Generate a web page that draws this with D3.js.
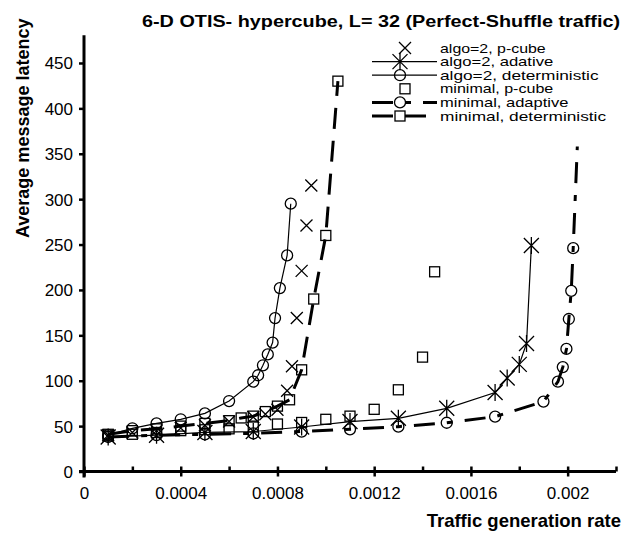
<!DOCTYPE html>
<html>
<head>
<meta charset="utf-8">
<script src="https://d3js.org/d3.v7.min.js"></script>
<style>
  body { margin: 0; background: #fff; }
  text { font-family: "Liberation Sans", Arial, sans-serif; fill: #000; }
</style>
</head>
<body>
<svg id="chart"></svg>
<script>
// ---- data ----
var pcubeAlgoX = [0.0001, 0.0002, 0.0003, 0.0004, 0.0005, 0.0006, 0.0007, 0.00075, 0.0008, 0.00084, 0.00086, 0.00088, 0.0009, 0.00092, 0.00094];
var pcubeAlgoY = [40, 43, 45, 48, 51, 55, 60, 63, 68, 89, 116, 169, 221, 271, 315];

var adaptAlgoX = [0.0001, 0.0003, 0.0005, 0.0007, 0.0009, 0.0011, 0.0013, 0.0015, 0.0017, 0.00175, 0.0018, 0.00183, 0.00185];
var adaptAlgoY = [38, 40, 43, 44, 49, 55, 58.6, 69.6, 87, 103, 118, 141, 249];

var detAlgoX = [0.0001, 0.0002, 0.0003, 0.0004, 0.0005, 0.0006, 0.0007, 0.00072, 0.00074, 0.00076, 0.00078, 0.00079, 0.00081, 0.00084, 0.000855];
var detAlgoY = [40, 47.6, 53, 57.5, 64, 77.6, 99, 106, 117, 129, 142, 169, 202, 238, 295];

var pcubeMinX = [0.0001, 0.0002, 0.0003, 0.0004, 0.0005, 0.0006, 0.0007, 0.0008, 0.0009, 0.001, 0.0011, 0.0012, 0.0013, 0.0014, 0.00145];
var pcubeMinY = [39, 41, 43, 45, 46, 47, 49, 52.3, 54, 57.5, 61, 68.5, 90, 126, 220];

var adaptMinX = [0.0001, 0.0003, 0.0005, 0.0007, 0.0009, 0.0011, 0.0013, 0.0015, 0.0017, 0.0019, 0.00196, 0.00198, 0.001995, 0.002005, 0.002015, 0.002023, 0.00204];
var adaptMinY = [38, 40, 41, 42, 44, 46.5, 49.4, 53.7, 60.4, 77, 99, 115, 135, 168, 199, 246, 358];

var detMinX = [0.0001, 0.0002, 0.0003, 0.0004, 0.0005, 0.0006, 0.00065, 0.0007, 0.00075, 0.0008, 0.00085, 0.0009, 0.00095, 0.001, 0.00105];
var detMinY = [41, 45, 47, 50, 53, 56, 59, 61, 66, 72, 79, 112, 190, 260, 430];

var seriesNames = ["algo=2, p-cube", "algo=2, adative", "algo=2, deterministic",
                   "minimal, p-cube", "minimal, adaptive", "minimal, deterministic"];

var yTicks = [0, 50, 100, 150, 200, 250, 300, 350, 400, 450];
var xTicks = [0, 0.0002, 0.0004, 0.0006, 0.0008, 0.001, 0.0012, 0.0014, 0.0016, 0.0018, 0.002, 0.0022];
var xLabels = ["0", "", "0.0004", "", "0.0008", "", "0.0012", "", "0.0016", "", "0.002", ""];

var titleText = "6-D OTIS- hypercube, L= 32 (Perfect-Shuffle traffic)";
var xTitle = "Traffic generation rate";
var yTitle = "Average message latency";

// ---- canvas ----
var W = 624, H = 536;
var plot = { left: 84, right: 616, top: 35.75, bottom: 471.5 };

var svg = d3.select("#chart")
    .attr("width", W)
    .attr("height", H);

var x = d3.scaleLinear().domain([0, 0.0022]).range([plot.left, plot.right]);
var y = d3.scaleLinear().domain([0, 480]).range([plot.bottom, plot.top]);

function zip(xs, ys) {
  return xs.map(function(v, i) { return { x: v, y: ys[i] }; });
}

var series = [
  { name: seriesNames[0], data: zip(pcubeAlgoX, pcubeAlgoY), marker: "x", line: null },
  { name: seriesNames[1], data: zip(adaptAlgoX, adaptAlgoY), marker: "star", line: { w: 1.2, dash: null } },
  { name: seriesNames[2], data: zip(detAlgoX, detAlgoY), marker: "circle", line: { w: 1.2, dash: null } },
  { name: seriesNames[3], data: zip(pcubeMinX, pcubeMinY), marker: "square", line: null },
  { name: seriesNames[4], data: zip(adaptMinX, adaptMinY), marker: "circle", line: { w: 3, dash: "21,12,6,12" }, noMarkerLast: true },
  { name: seriesNames[5], data: zip(detMinX, detMinY), marker: "square", line: { w: 3, dash: "21,12" } }
];

// marker drawing
function drawMarker(g, type, cx, cy) {
  var s = g.append("g").attr("transform", "translate(" + cx + "," + cy + ")")
      .attr("fill", "none").attr("stroke", "#000").attr("stroke-width", 1.3);
  if (type === "x") {
    s.append("path").attr("d", "M-6,-6L6,6M-6,6L6,-6");
  } else if (type === "star") {
    s.append("path").attr("d", "M-7.5,-7.5L7.5,7.5M-7.5,7.5L7.5,-7.5M0,-8.5L0,8.5");
  } else if (type === "circle") {
    s.append("circle").attr("r", 5.5);
  } else if (type === "square") {
    s.append("rect").attr("x", -5).attr("y", -5).attr("width", 10).attr("height", 10);
  }
}

// clip to plot area
svg.append("clipPath").attr("id", "plotclip")
  .append("rect")
    .attr("x", plot.left).attr("y", plot.top)
    .attr("width", plot.right - plot.left).attr("height", plot.bottom - plot.top);

var gData = svg.append("g").attr("clip-path", "url(#plotclip)");

var line = d3.line()
    .x(function(d) { return x(d.x); })
    .y(function(d) { return y(d.y); });

series.forEach(function(s) {
  if (s.line) {
    gData.append("path")
      .attr("d", line(s.data))
      .attr("fill", "none")
      .attr("stroke", "#000")
      .attr("stroke-width", s.line.w)
      .attr("stroke-dasharray", s.line.dash);
  }
});
series.forEach(function(s) {
  s.data.forEach(function(d, i) {
    if (s.noMarkerLast && i === s.data.length - 1) return;
    drawMarker(gData, s.marker, x(d.x), y(d.y));
  });
});

// ---- axes ----
var yAxis = svg.append("g")
    .attr("transform", "translate(" + plot.left + ",0)")
    .call(d3.axisLeft(y).tickValues(yTicks).tickSize(5).tickSizeOuter(0).tickPadding(6));
yAxis.select(".domain").remove();
yAxis.selectAll(".tick line").attr("stroke-width", 2.5);
yAxis.selectAll(".tick text").style("font-size", "17px").attr("dy", "0.35em");

var xAxis = svg.append("g")
    .attr("transform", "translate(0," + plot.bottom + ")")
    .call(d3.axisBottom(x).tickValues(xTicks).tickSize(0).tickSizeOuter(0)
      .tickFormat(function(d, i) { return xLabels[i]; }).tickPadding(15));
xAxis.select(".domain").remove();
xAxis.selectAll(".tick line")
    .attr("y1", -5)
    .attr("y2", function(d, i) { return i % 2 === 0 ? 5 : 0; })
    .attr("stroke-width", 2.5);
xAxis.selectAll(".tick text").style("font-size", "17px");

// axis lines
svg.append("line")
    .attr("x1", plot.left).attr("x2", plot.left)
    .attr("y1", plot.top - 0.5).attr("y2", plot.bottom + 6)
    .attr("stroke", "#000").attr("stroke-width", 3);
svg.append("line")
    .attr("x1", plot.left - 5).attr("x2", plot.right)
    .attr("y1", plot.bottom).attr("y2", plot.bottom)
    .attr("stroke", "#000").attr("stroke-width", 3);

// ---- titles ----
svg.append("text")
    .attr("x", 142).attr("y", 27)
    .attr("textLength", 478).attr("lengthAdjust", "spacingAndGlyphs")
    .style("font-size", "16px").style("font-weight", "bold")
    .text(titleText);

svg.append("text")
    .attr("x", 621).attr("y", 527)
    .attr("text-anchor", "end")
    .style("font-size", "18.5px").style("font-weight", "bold")
    .text(xTitle);

svg.append("text")
    .attr("transform", "translate(29,238) rotate(-90)")
    .attr("text-anchor", "start")
    .style("font-size", "18px").style("font-weight", "bold")
    .text(yTitle);

// ---- legend ----
var legend = svg.append("g");
series.forEach(function(s, i) {
  var cy = 48 + i * 13.6;
  var mx = s.line ? 400 : 405;
  if (s.line) {
    legend.append("line")
      .attr("x1", 372).attr("x2", 437)
      .attr("y1", cy).attr("y2", cy)
      .attr("stroke", "#000")
      .attr("stroke-width", s.line.w)
      .attr("stroke-dasharray", s.line.dash);
  }
  drawMarker(legend, s.marker, mx, cy);
  legend.append("text")
    .attr("x", 440).attr("y", cy + 4.5)
    .attr("textLength", s.name.length * 7.55).attr("lengthAdjust", "spacingAndGlyphs")
    .style("font-size", "13px")
    .text(s.name);
});
</script>
</body>
</html>
